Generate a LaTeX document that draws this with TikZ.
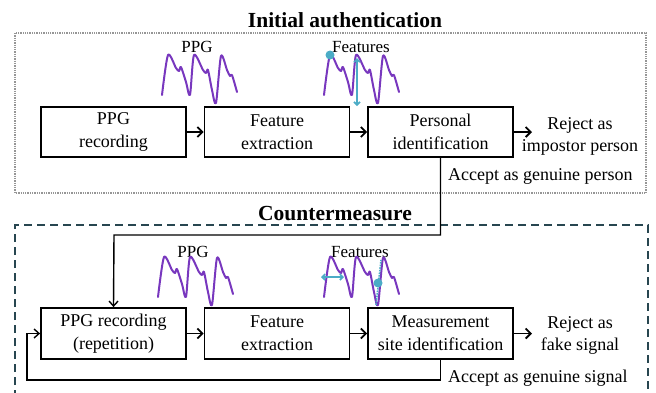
\documentclass[tikz,border=0pt]{standalone}
\usepackage{fontspec}
\setmainfont{Liberation Serif}
\usetikzlibrary{arrows.meta}
\definecolor{wave}{RGB}{120,55,190}
\definecolor{feat}{RGB}{75,172,198}
\definecolor{frameB}{RGB}{40,70,80}
\definecolor{frameA}{RGB}{150,150,150}
\begin{document}
\begin{tikzpicture}[x=1pt,y=-1pt,
  box/.style={draw, line width=1.8pt, minimum width=145pt, minimum height=50pt, inner sep=0pt, align=center, font=\fontsize{18}{23}\selectfont},
  lbl/.style={inner sep=0pt, align=center, font=\fontsize{18}{22}\selectfont},
  small/.style={inner sep=0pt, font=\fontsize{17}{20}\selectfont},
  ttl/.style={inner sep=0pt, font=\fontsize{21.5}{24}\selectfont\bfseries},
  flow/.style={line width=1.8pt, -{Straight Barb[length=5pt,width=10pt]}},
  conn/.style={line width=1.4pt},
  connarrow/.style={line width=1.4pt, -{Straight Barb[length=5pt,width=9pt]}},
  wv/.style={wave, line width=2pt, line join=round, line cap=round},
  cy/.style={feat, line width=1.6pt},
  ppgwave/.pic={\draw[wv] plot[smooth,tension=0.45] coordinates {(0,0) (6,-40) (14,-27) (17,-24) (19,-28) (24,-13) (28,0) (32,-40) (41,-25) (44,-22) (46,-25) (50,-5) (54,8) (59,-39) (65,-25) (68,-19) (70,-20) (75,-3)};}
]
\useasboundingbox (0,0) rectangle (656,392);
\clip (0,0) rectangle (656,392);

% frames
\draw[frameA, line width=1.3pt, densely dotted] (15,33) rectangle (646,193);
\draw[frameB, line width=1.5pt, dash pattern=on 8pt off 5pt] (15,398) -- (15,225) -- (648,225) -- (648,398);

% titles
\node[ttl] (t1) at (345,20) {Initial authentication};
\node[ttl] (t2) at (335,214) {Countermeasure};

% top row
\node[box] (b1) at (113.5,132) {PPG\\recording};
\node[box] (b2) at (277,132) {Feature\\extraction};
\node[box] (b3) at (440.5,132) {Personal\\identification};
\coordinate (r1) at (532,132);
\draw[flow] (b1.east) -- (b2.west);
\draw[flow] (b2.east) -- (b3.west);
\draw[flow] (b3.east) -- (r1);
\node[lbl] (rej1) at (580,136) {Reject as\\impostor person};
\node[lbl, anchor=base west] (acc1) at (448,180) {Accept as genuine person};

% bottom row
\node[box, minimum height=51pt] (b4) at (113.5,333.5) {PPG recording\\(repetition)};
\node[box, minimum height=51pt] (b5) at (277,333.5) {Feature\\extraction};
\node[box, minimum height=51pt] (b6) at (440.5,333.5) {Measurement\\site identification};
\coordinate (r2) at (532,333.5);
\draw[flow] (b4.east) -- (b5.west);
\draw[flow] (b5.east) -- (b6.west);
\draw[flow] (b6.east) -- (r2);
\node[lbl] (rej2) at (580,335.5) {Reject as\\fake signal};
\node[lbl, anchor=base west] (acc2) at (448,382) {Accept as genuine signal};

% connectors
\coordinate (k1) at (114,235);
\draw[connarrow] (b3.south) |- (k1) -- (b4.north);
\coordinate (lp) at (27,380);
\draw[connarrow] (b6.south) |- (lp) |- (b4.west);

% waveform labels
\node[small] (p1) at (197,47) {PPG};
\node[small] (f1) at (361,47) {Features};
\node[small] (p2) at (193,252) {PPG};
\node[small] (f2) at (360,252) {Features};

% waveforms
\pic at (162,95) {ppgwave};
\pic at (324,95) {ppgwave};
\pic at (158,297) {ppgwave};
\pic at (324,297) {ppgwave};

% feature marks, top
\fill[feat] (330,55) circle[radius=4.5pt];
\draw[cy, {Straight Barb[length=3pt,width=6pt]}-{Straight Barb[length=3pt,width=6pt]}] (357,58) -- (357,106);
% feature marks, bottom
\draw[cy, {Straight Barb[length=3pt,width=6pt]}-{Straight Barb[length=3pt,width=6pt]}] (321,277) -- (344,277);
\draw[cy, densely dotted] (376,305) -- (381,260);
\fill[feat] (378,283) circle[radius=4.5pt];
\end{tikzpicture}
\end{document}
